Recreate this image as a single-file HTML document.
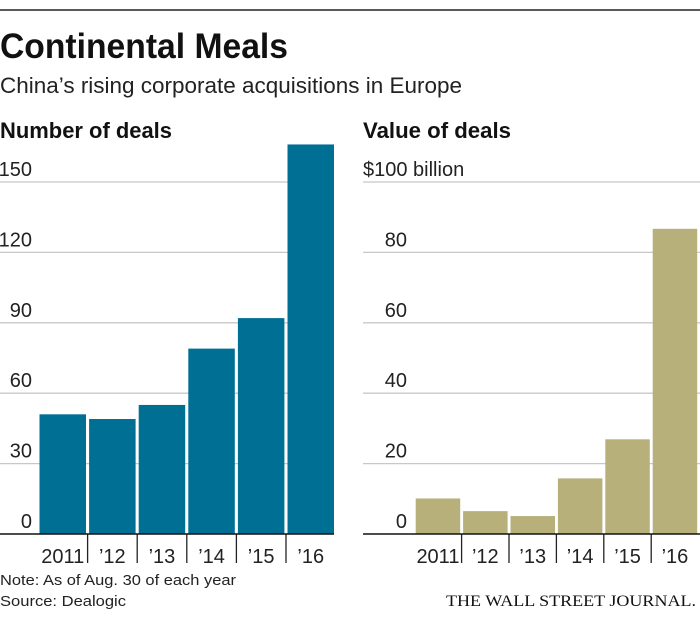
<!DOCTYPE html>
<html><head><meta charset="utf-8"><style>
html,body{margin:0;padding:0;background:#fff;}
svg{display:block;font-family:"Liberation Sans",sans-serif;}
</style></head><body>
<svg id="chart" width="700" height="617" viewBox="0 0 700 617">
<line x1="0" y1="10" x2="700" y2="10" stroke="#222" stroke-width="1.5"/>
<text x="0" y="58" font-size="35" font-weight="bold" fill="#111" textLength="288" lengthAdjust="spacingAndGlyphs">Continental Meals</text>
<text x="0" y="93" font-size="22" fill="#222" textLength="462" lengthAdjust="spacingAndGlyphs">China’s rising corporate acquisitions in Europe</text>
<text x="0" y="138" font-size="22" font-weight="bold" fill="#111" textLength="172" lengthAdjust="spacingAndGlyphs">Number of deals</text>
<text x="363" y="138" font-size="22" font-weight="bold" fill="#111" textLength="148" lengthAdjust="spacingAndGlyphs">Value of deals</text>
<g id="left"></g><g id="right"></g>
<text x="0" y="585" font-size="15" fill="#222" textLength="236" lengthAdjust="spacingAndGlyphs">Note: As of Aug. 30 of each year</text>
<text x="0" y="606" font-size="15" fill="#222" textLength="126" lengthAdjust="spacingAndGlyphs">Source: Dealogic</text>
<text x="696" y="606" font-size="16" text-anchor="end" fill="#111" font-family="Liberation Serif,serif" textLength="250" lengthAdjust="spacingAndGlyphs">THE WALL STREET JOURNAL.</text>
</svg>
<script>
const categories = ["2011","'12","'13","'14","'15","'16"];
const dealCounts = [51, 49, 55, 79, 92, 166];
const dealValues = [10.1, 6.5, 5.1, 15.8, 26.9, 86.7];
const leftTicks = [0, 30, 60, 90, 120, 150];
const rightTicks = [0, 20, 40, 60, 80, 100];
const NS = "http://www.w3.org/2000/svg";
function mk(tag, attrs, parent){const e=document.createElementNS(NS,tag);for(const k in attrs)e.setAttribute(k,attrs[k]);parent.appendChild(e);return e;}
function panel(g, vals, ticks, cfg){
  const base=534, unitPx=cfg.pxPer;
  const y=v=>base-v*unitPx;
  const x=i=>cfg.barStart+i*cfg.step;
  ticks.forEach((t,i)=>{
    if(t>0){const l=mk('line',{x1:cfg.axisL,x2:cfg.axisR,y1:y(t),y2:y(t),stroke:'#c8c8c8','stroke-width':1.3},g);
    
    }
    const label = (cfg.topLabel && i===ticks.length-1) ? cfg.topLabel : String(t);
    const tx=mk('text',{x:(cfg.topLabel && i===ticks.length-1)?cfg.axisL:cfg.labelR,y:y(t)-6,'font-size':20,fill:'#222','text-anchor':(cfg.topLabel && i===ticks.length-1)?'start':'end'},g);
    tx.textContent=label;
    
    
  });
  vals.forEach((v,i)=>{
    const r=mk('rect',{x:x(i),y:y(v),width:cfg.barW,height:base-y(v),fill:cfg.color},g);
    
    
    const t=mk('text',{x:x(i)+cfg.barW/2,y:563,'font-size':20,fill:'#222','text-anchor':'middle'},g);
    t.textContent=categories[i].replace("'","’");
    
    
    if(i>0){const s=mk('line',{x1:x(i)-1.5,x2:x(i)-1.5,y1:base,y2:563,stroke:'#222','stroke-width':1.3},g);
    
    }
  });
  const a=mk('line',{x1:cfg.axisL,x2:cfg.axisR,y1:base,y2:base,stroke:'#111','stroke-width':1.6},g);
  
  
}
panel(document.getElementById('left'), dealCounts, leftTicks, {pxPer:70.4/30, barStart:39.5, step:49.6, barW:46.5, axisL:0, axisR:334, labelR:32, color:'#006f94'});
panel(document.getElementById('right'), dealValues, rightTicks, {pxPer:70.4/20, barStart:415.7, step:47.4, barW:44.5, axisL:363, axisR:700, labelR:407, color:'#b7b07b', topLabel:'$100 billion'});
</script>
</body></html>
